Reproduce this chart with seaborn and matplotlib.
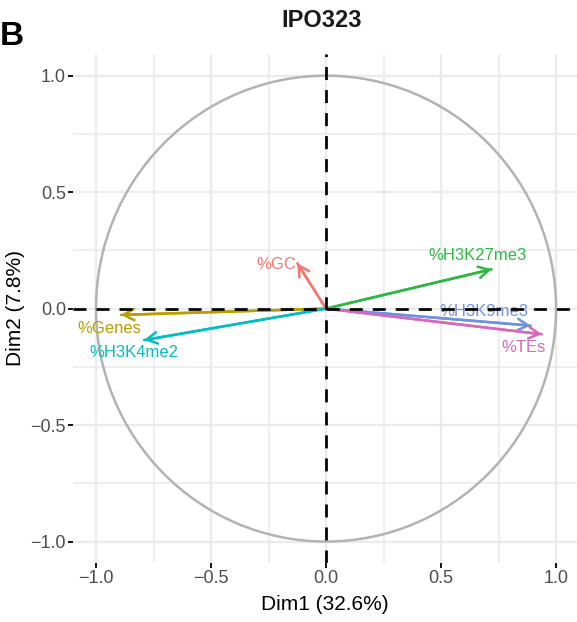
import numpy as np
import pandas as pd
import matplotlib
matplotlib.use("Agg")
import matplotlib.pyplot as plt
from matplotlib.patches import Circle
import seaborn as sns

# ---- data ----
variables = ["%GC", "%Genes", "%H3K27me3", "%H3K4me2", "%H3K9me3", "%TEs"]
dim1 = [-0.125, -0.891, 0.720, -0.791, 0.890, 0.938]
dim2 = [0.195, -0.027, 0.169, -0.135, -0.073, -0.110]
colors = ["#F8766D", "#B79F00", "#2DB844", "#00BFC4", "#6E93DE", "#D868BE"]
title = "IPO323"
panel_tag = "B"
xlab = "Dim1 (32.6%)"
ylab = "Dim2 (7.8%)"
ticks = [-1.0, -0.5, 0.0, 0.5, 1.0]
tick_labels = ["\u22121.0", "\u22120.5", "0.0", "0.5", "1.0"]
minor_ticks = [-0.75, -0.25, 0.25, 0.75]

# label placement (layout, repel-like offsets)
label_x = [-0.217, -0.94, 0.66, -0.835, 0.687, 0.857]
label_y = [0.19, -0.087, 0.23, -0.189, -0.013, -0.165]

sns.set_theme(style="white")
plt.rcParams["font.family"] = ["Liberation Sans", "DejaVu Sans"]

fig = plt.figure(figsize=(5.77, 6.22), dpi=100)
ax = fig.add_axes([73 / 577, (622 - 563) / 622, (577 - 73) / 577, (563 - 54) / 622])

palette = dict(zip(variables, colors))

# segments for seaborn shafts
rows = []
for v, x, y in zip(variables, dim1, dim2):
    rows.append({"var": v, "x": 0.0, "y": 0.0})
    rows.append({"var": v, "x": x, "y": y})
seg = pd.DataFrame(rows)

ax.add_patch(Circle((0, 0), 1.0, fill=False, edgecolor="#B3B3B3", lw=1.8, zorder=2))

sns.lineplot(data=seg, x="x", y="y", hue="var", units="var", estimator=None,
             sort=False, palette=palette, legend=False, lw=1.8, ax=ax, zorder=3)

for v, x, y in zip(variables, dim1, dim2):
    ax.annotate("", xy=(x, y), xytext=(0, 0),
                arrowprops=dict(arrowstyle="->,head_length=0.42,head_width=0.23",
                                color=palette[v], lw=1.8, mutation_scale=18,
                                shrinkA=0, shrinkB=0),
                zorder=3)

for v, lx, ly in zip(variables, label_x, label_y):
    ax.text(lx, ly, v, color=palette[v], ha="center", va="center", fontsize=12, zorder=4)

ax.axhline(0, color="black", lw=1.95, ls=(0, (4.8, 3.7)), zorder=5)
ax.axvline(0, color="black", lw=1.95, ls=(0, (4.8, 3.7)), zorder=5)

ax.set_xlim(-1.1, 1.091)
ax.set_ylim(-1.092, 1.093)
ax.set_xticks(ticks)
ax.set_yticks(ticks)
ax.set_xticks(minor_ticks, minor=True)
ax.set_yticks(minor_ticks, minor=True)
ax.set_xticklabels(tick_labels)
ax.set_yticklabels(tick_labels)
ax.grid(which="major", color="#EBEBEB", lw=1.6)
ax.grid(which="minor", color="#EBEBEB", lw=1.2)
ax.set_axisbelow(True)
ax.tick_params(which="major", length=3.5, width=1.3, color="black",
               labelsize=13, labelcolor="#4D4D4D", pad=1.5,
               bottom=True, left=True)
ax.tick_params(which="minor", length=0)
for s in ax.spines.values():
    s.set_visible(False)

ax.set_xlabel(xlab, fontsize=15, color="black", labelpad=6)
ax.set_ylabel(ylab, fontsize=15, color="black", labelpad=4)

fig.text(322 / 577, 1 - 27 / 622, title, ha="center", va="baseline",
         fontsize=17, fontweight="bold", color="#1A1A1A")
fig.text(0.0, 1 - 45 / 622, panel_tag, ha="left", va="baseline",
         fontsize=24, fontweight="bold", color="black")

fig.savefig("out.png", dpi=100)
